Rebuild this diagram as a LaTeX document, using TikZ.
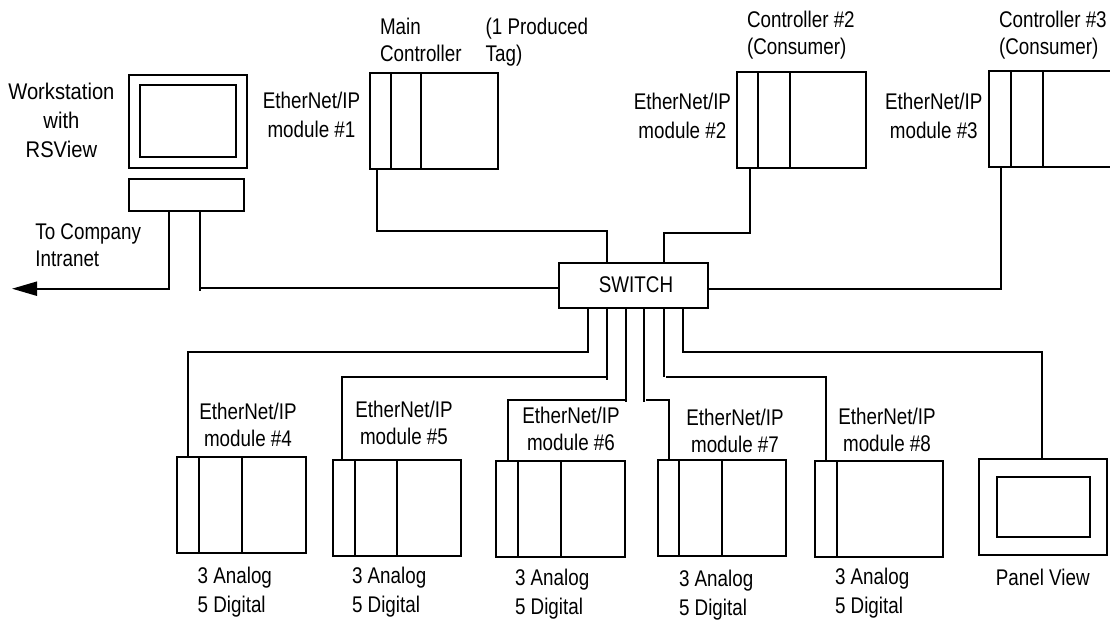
\documentclass[tikz,border=0pt]{standalone}
\usepackage{fontspec}
\setmainfont{Liberation Sans}[FakeStretch=0.83]
\newfontfamily\widerlab{Liberation Sans}[FakeStretch=0.89]
\usetikzlibrary{fit,arrows.meta}
\tikzset{
  shapebox/.style={draw,fit={#1},inner sep=0pt,outer sep=0pt,fill=none},
  wire/.style={line cap=butt,line join=miter},
  lab/.style={inner sep=0pt,outer sep=0pt,align=center,font=\fontsize{17}{20.5}\selectfont},
  labwide/.style={inner sep=0pt,outer sep=0pt,align=center,font=\fontsize{17}{21.75}\selectfont},
  labl/.style={inner sep=0pt,outer sep=0pt,align=left,anchor=west,font=\fontsize{17}{20.5}\selectfont},
  lablwide/.style={inner sep=0pt,outer sep=0pt,align=left,anchor=west,font=\fontsize{17}{21.75}\selectfont}
}
\begin{document}
\begin{tikzpicture}[x=0.75pt,y=-0.75pt,line width=1.5pt]
\clip (0,0) rectangle (1110,620);
\fill[white] (0,0) rectangle (1110,620);
% workstation
\node[shapebox={(129,75) (247,168)}] (mon) {};
\node[shapebox={(140,85) (236,157)}] (scr) {};
\node[shapebox={(129,179) (244,211)}] (kbd) {};
% controllers
\node[shapebox={(370,73) (498,169)}] (c1) {};
\draw (391,0 |- c1.north) -- (391,0 |- c1.south);
\draw (421,0 |- c1.north) -- (421,0 |- c1.south);
\node[shapebox={(737,72) (865.5,168)}] (c2) {};
\draw (758,0 |- c2.north) -- (758,0 |- c2.south);
\draw (790,0 |- c2.north) -- (790,0 |- c2.south);
\node[shapebox={(989,71) (1120,167)}] (c3) {};
\draw (1011,0 |- c3.north) -- (1011,0 |- c3.south);
\draw (1043,0 |- c3.north) -- (1043,0 |- c3.south);
% switch
\node[shapebox={(558.5,263) (708,308)}] (sw) {};
\node[font=\fontsize{17}{18}\selectfont,inner sep=0pt] (swt) at (636,285) {SWITCH};
% lower modules
\node[shapebox={(177,457) (305.7,552.7)}] (m4) {};
\draw (199,0 |- m4.north) -- (199,554);
\draw (241.7,0 |- m4.north) -- (241.7,554);
\node[shapebox={(333,460) (461,555.7)}] (m5) {};
\draw (354.7,0 |- m5.north) -- (354.7,0 |- m5.south);
\draw (397,0 |- m5.north) -- (397,0 |- m5.south);
\node[shapebox={(496,461) (624.7,556.7)}] (m6) {};
\draw (518,0 |- m6.north) -- (518,0 |- m6.south);
\draw (561,0 |- m6.north) -- (561,0 |- m6.south);
\node[shapebox={(657.7,460) (786,555.7)}] (m7) {};
\draw (679,0 |- m7.north) -- (679,557);
\draw (721.7,0 |- m7.north) -- (721.7,557);
\node[shapebox={(815,461) (943,556.7)}] (m8) {};
\draw (837,0 |- m8.north) -- (837,558);
% panel view
\node[shapebox={(979,459) (1107,555)}] (pv) {};
\node[shapebox={(996.7,477) (1090.3,537)}] (pvs) {};
% connectors
\coordinate (tip) at (12,288.7);
\coordinate (stub) at (199.5,290.7);
\draw[wire,-{Triangle[length=18.75pt,width=10.5pt]}] (169,0 |- kbd.south) -- (169,288.7) -- (tip);
\draw[wire] (stub) -- (199.5,0 |- kbd.south);
\draw[wire] (199.5,287.7) -- (sw.west |- 0,287.7);
\draw[wire] (377,0 |- c1.south) -- (377,231.5) -- (607,231.5) -- (607,0 |- sw.north);
\draw[wire] (663.7,0 |- sw.north) -- (663.7,233) -- (749.7,233) -- (749.7,0 |- c2.south);
\draw[wire] (1000.7,0 |- c3.south) -- (1000.7,288.7) -- (sw.east |- 0,288.7);
\draw[wire] (587.7,0 |- sw.south) -- (587.7,352.3) -- (187.7,352.3) -- (187.7,0 |- m4.north);
\draw[wire] (606.7,0 |- sw.south) -- (606.7,380);
\draw[wire] (606.7,377) -- (342,377) -- (342,0 |- m5.north);
\draw[wire] (625.7,0 |- sw.south) -- (625.7,401.7);
\draw[wire] (625.7,400) -- (507.7,400) -- (507.7,0 |- m6.north);
\draw[wire] (644,0 |- sw.south) -- (644,402);
\draw[wire] (646,400) -- (669.3,400) -- (669.3,0 |- m7.north);
\draw[wire] (664,0 |- sw.south) -- (664,377);
\draw[wire] (665.7,377) -- (826.3,377) -- (826.3,0 |- m8.north);
\draw[wire] (682.7,0 |- sw.south) -- (682.7,352) -- (1042,352) -- (1042,0 |- pv.north);
% labels
\node[labwide,font=\widerlab\fontsize{17}{21.75}\selectfont] (t1) at (61.4,120) {Workstation\\with\\RSView};
\node[labl] (t2) at (35.4,245) {To Company\\Intranet};
\node[labwide] (t3) at (311.5,115) {EtherNet/IP\\module \#1};
\node[labl] (t4) at (380,40) {Main\\Controller};
\node[labl] (t5) at (485.7,42) {(1 Produced\\Tag)};
\node[labl] (t6) at (747,35) {Controller \#2\\(Consumer)};
\node[labl] (t7) at (999,35) {Controller \#3\\(Consumer)};
\node[labwide] (t8) at (682.4,116) {EtherNet/IP\\module \#2};
\node[labwide] (t9) at (933.8,116) {EtherNet/IP\\module \#3};
\node[lab] (t10) at (248,425) {EtherNet/IP\\module \#4};
\node[lab] (t11) at (404,423) {EtherNet/IP\\module \#5};
\node[lab] (t12) at (571,429) {EtherNet/IP\\module \#6};
\node[lab] (t13) at (735,431) {EtherNet/IP\\module \#7};
\node[lab] (t14) at (887,430) {EtherNet/IP\\module \#8};
\node[lablwide] (t15) at (197.7,592) {3 Analog\\5 Digital};
\node[lablwide] (t16) at (352,592) {3 Analog\\5 Digital};
\node[lablwide] (t17) at (515,594) {3 Analog\\5 Digital};
\node[lablwide] (t18) at (679,595) {3 Analog\\5 Digital};
\node[lablwide] (t19) at (835,593) {3 Analog\\5 Digital};
\node[lab] (t20) at (1042.7,577) {Panel View};
\end{tikzpicture}
\end{document}
